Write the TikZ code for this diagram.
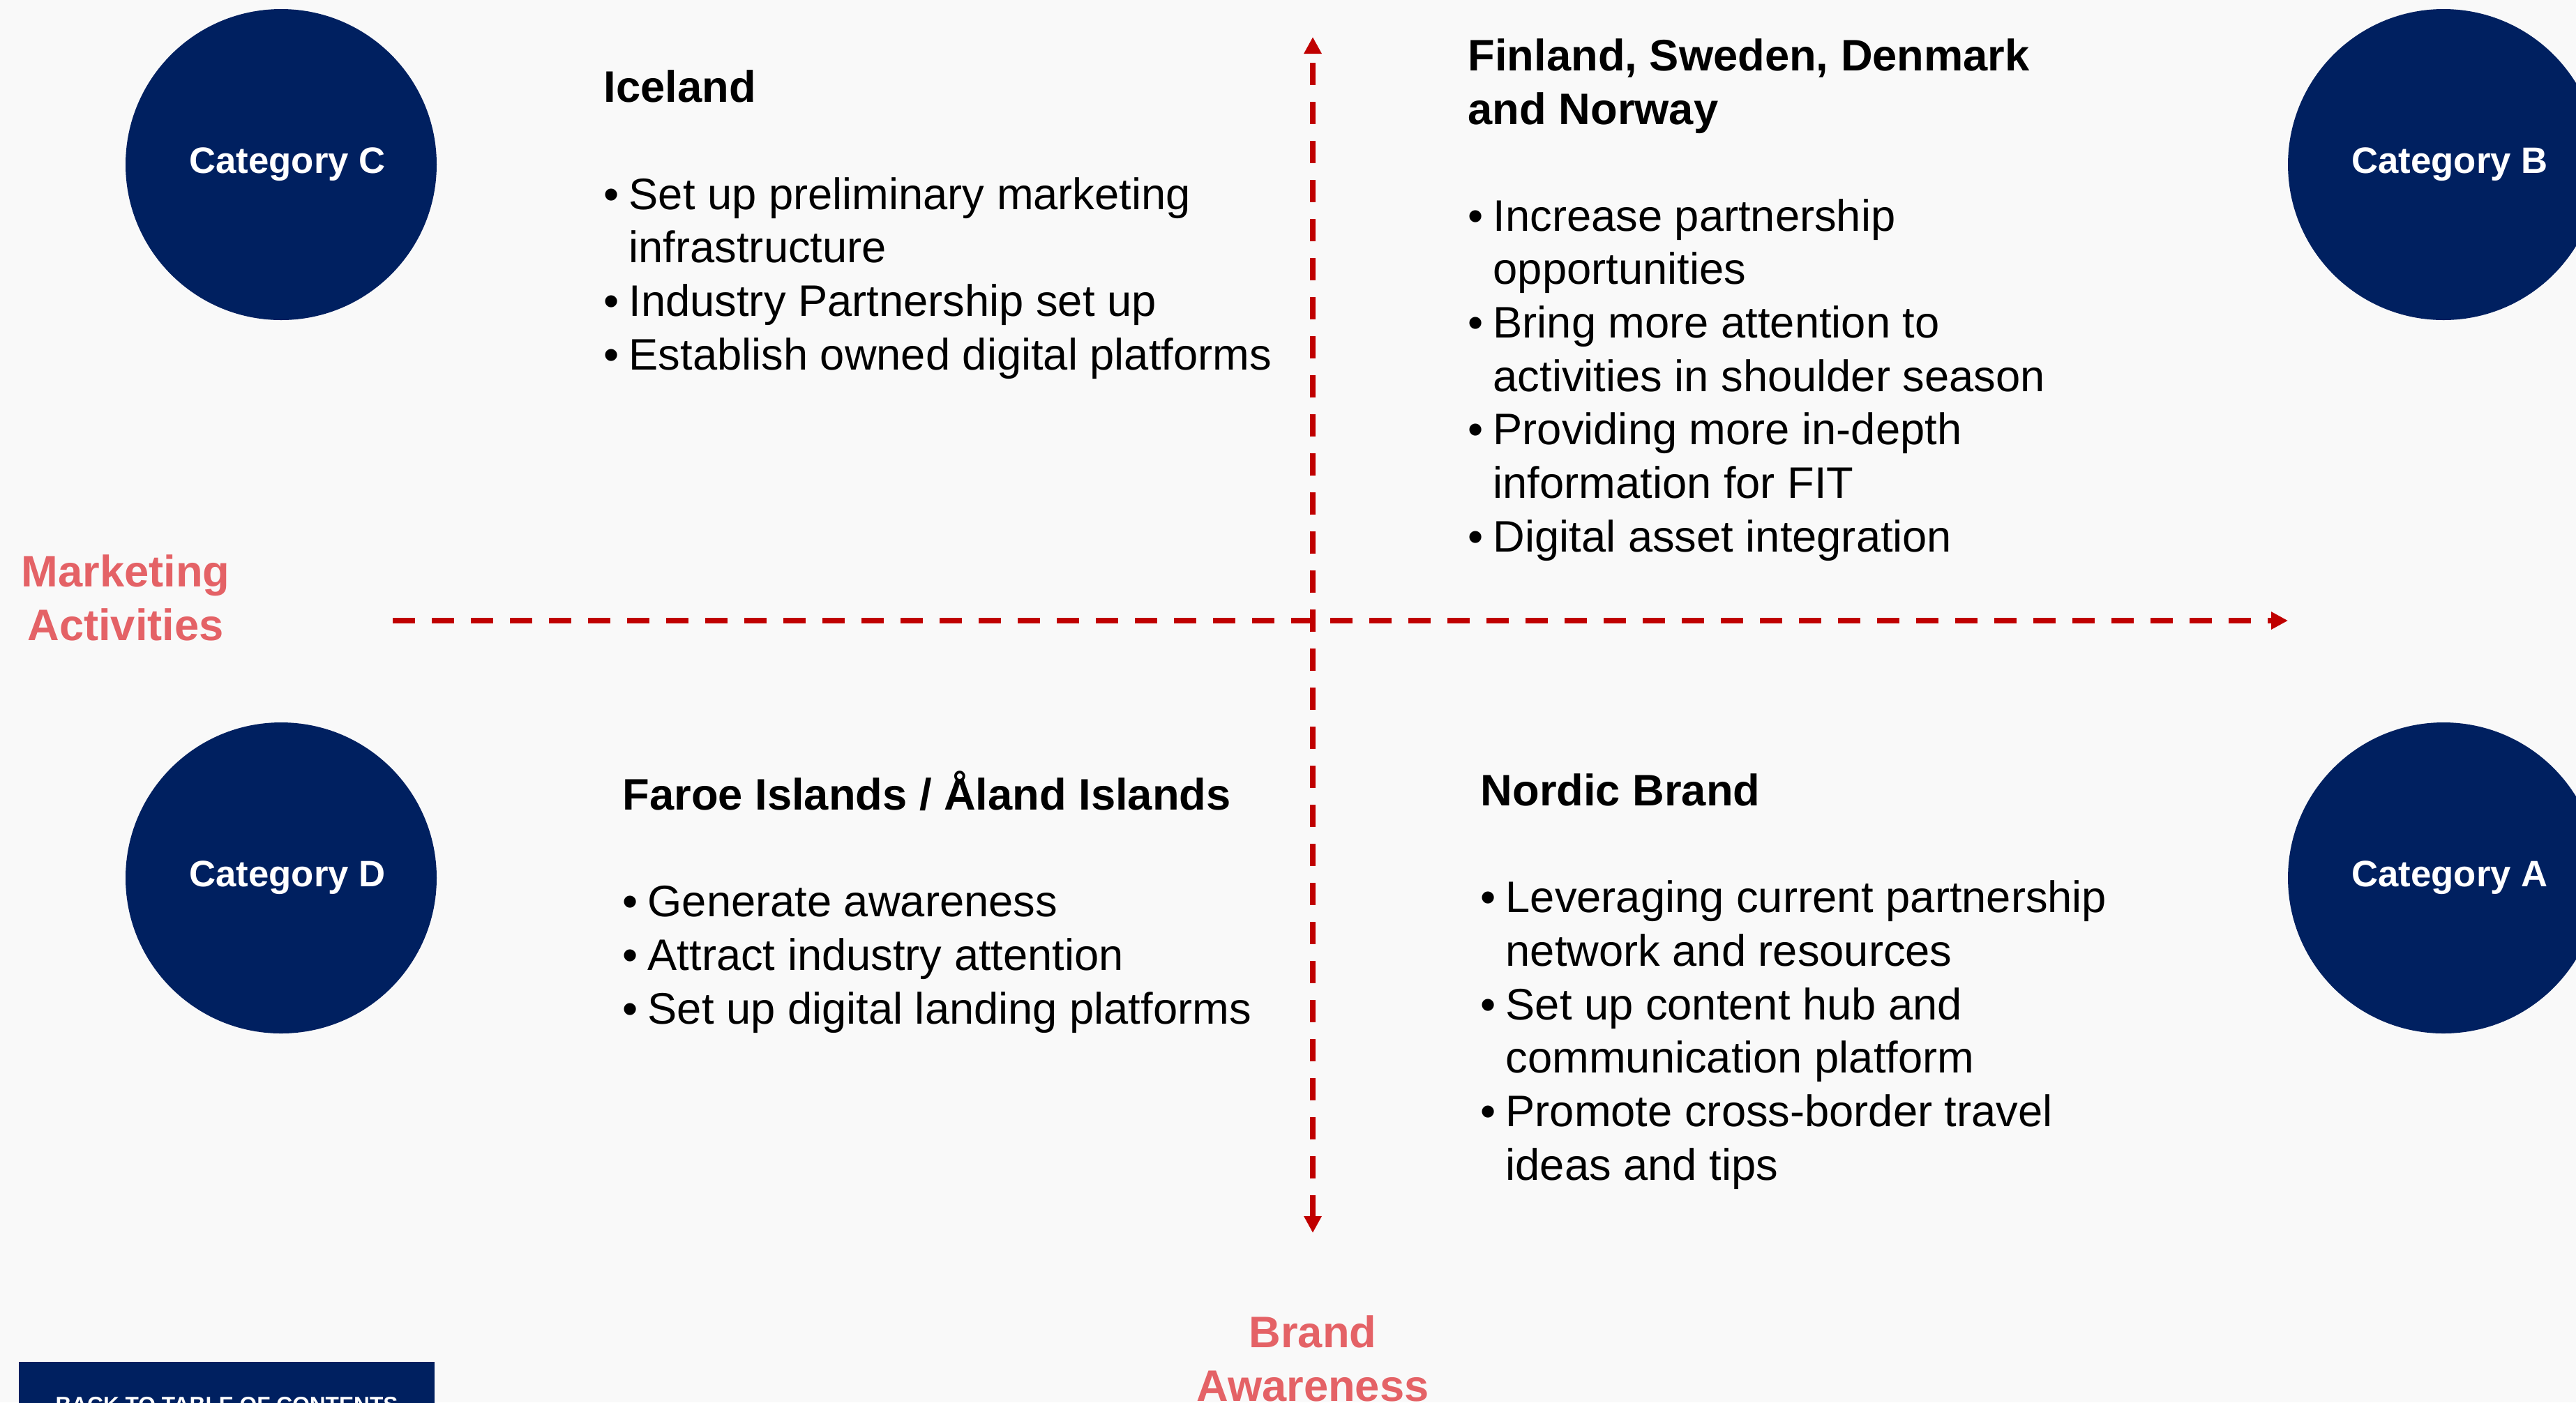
\documentclass[tikz,border=0pt]{standalone}
\usepackage{fontspec}
\setmainfont{Liberation Sans}
\usepackage{xcolor}
\usetikzlibrary{arrows.meta,positioning}

\definecolor{navyblue}{HTML}{002060}
\definecolor{axisred}{HTML}{C00000}
\definecolor{labelred}{HTML}{E46266}
\definecolor{pagebg}{HTML}{F9F9F9}

\newcommand{\qbul}{\makebox[0.36cm][l]{•}}
\newcommand{\qgap}{\hspace*{0.36cm}}

\begin{document}
\begin{tikzpicture}[
    category/.style={circle, fill=navyblue, text=white, minimum size=4.46cm, inner sep=0pt, font=\fontsize{15}{18}\selectfont\bfseries, execute at begin node={\hspace*{0.18cm}}},
    quadrant/.style={anchor=base west, align=left, inner sep=0pt, font=\fontsize{18}{21.8}\selectfont},
    axislabel/.style={anchor=base, align=center, inner sep=0pt, text=labelred, font=\fontsize{18}{21.8}\selectfont\bfseries},
    arrow/.style={>={Triangle[width=2.4mm,length=2.4mm]}, draw=axisred, line width=0.8mm, dash pattern=on 3.2mm off 2.4mm},
    backbutton/.style={rectangle, fill=navyblue, text=white, minimum width=5.96cm, minimum height=1.24cm, font=\fontsize{9}{11}\selectfont\bfseries}
]

\useasboundingbox (0,0) rectangle (36.93,-20.11);
\clip (0,0) rectangle (36.93,-20.11);
\fill[pagebg] (0,0) rectangle (36.93,-20.11);

% Category circles
\node[category] (catC) at (4.03,-2.36) {Category C};
\node[category] (catB) at (35.03,-2.36) {Category B};
\node[category] (catD) at (4.03,-12.59) {Category D};
\node[category] (catA) at (35.03,-12.59) {Category A};

% Axes
\coordinate (vtop) at (18.82,-0.53);
\coordinate (vbottom) at (18.82,-17.68);
\coordinate (hleft) at (5.63,-8.90);
\coordinate (hright) at (32.80,-8.90);

\draw[arrow, <->] (vbottom) -- (vtop);
\draw[arrow, ->] (hleft) -- (hright);

% Quadrant texts (anchored at the last line)
\node[quadrant] (iceland) at (8.65,-5.30) {
    \textbf{Iceland}\\[21.8pt]
    \qbul Set up preliminary marketing\\
    \qgap infrastructure\\
    \qbul Industry Partnership set up\\
    \qbul Establish owned digital platforms
};

\node[quadrant] (nordics) at (21.04,-7.91) {
    \textbf{Finland, Sweden, Denmark}\\
    \textbf{and Norway}\\[21.8pt]
    \qbul Increase partnership\\
    \qgap opportunities\\
    \qbul Bring more attention to\\
    \qgap activities in shoulder season\\
    \qbul Providing more in-depth\\
    \qgap information for FIT\\
    \qbul Digital asset integration
};

\node[quadrant] (islands) at (8.92,-14.68) {
    \textbf{Faroe Islands / Åland Islands}\\[21.8pt]
    \qbul Generate awareness\\
    \qbul Attract industry attention\\
    \qbul Set up digital landing platforms
};

\node[quadrant] (brand) at (21.22,-16.92) {
    \textbf{Nordic Brand}\\[21.8pt]
    \qbul Leveraging current partnership\\
    \qgap network and resources\\
    \qbul Set up content hub and\\
    \qgap communication platform\\
    \qbul Promote cross-border travel\\
    \qgap ideas and tips
};

% Axis labels
\node[axislabel] (mktlabel) at (1.80,-9.18) {Marketing\\Activities};
\node[axislabel] (brandlabel) at (18.82,-20.09) {Brand\\Awareness};

\node[backbutton] (backbtn) at (3.25,-20.15) {BACK TO TABLE OF CONTENTS};

\end{tikzpicture}
\end{document}
